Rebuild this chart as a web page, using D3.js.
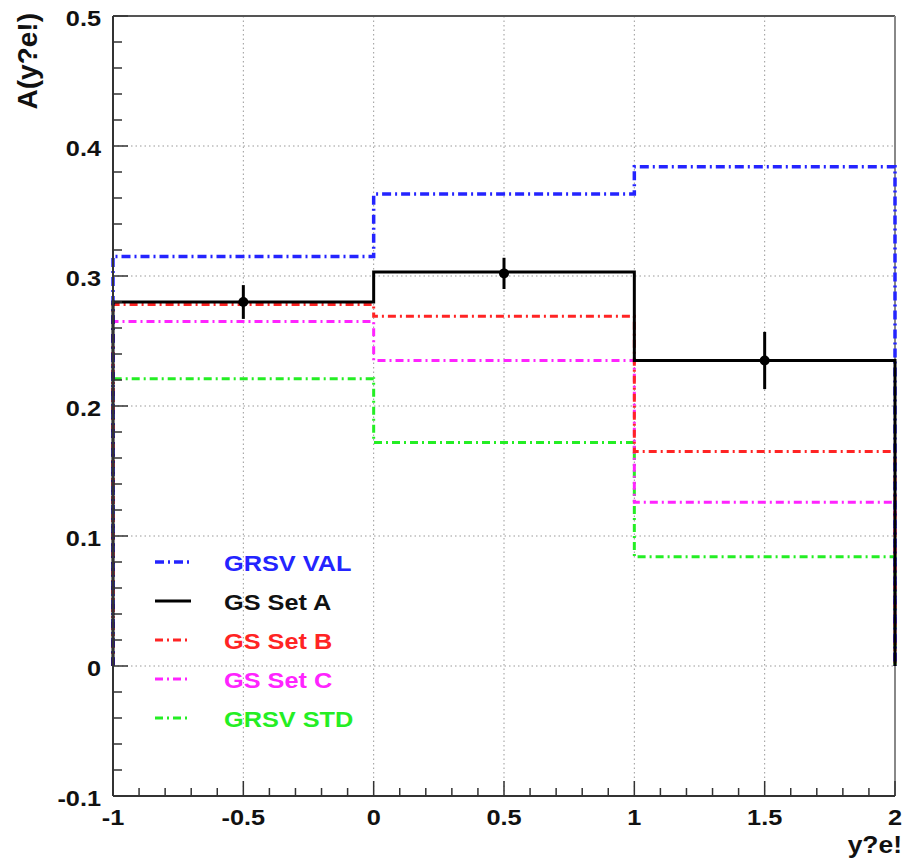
<!DOCTYPE html>
<html>
<head>
<meta charset="utf-8">
<script src="https://cdn.jsdelivr.net/npm/d3@7"></script>
<style>
  body { margin: 0; background: #fff; }
  svg { display: block; font-family: "Liberation Sans", Arial, sans-serif; }
</style>
</head>
<body>
<svg id="chart"></svg>
<script>
// Histogram bins and contents
const binEdges = [-1, 0, 1, 2];
const grsvVal = [0.315, 0.363, 0.384];
const gsSetA  = [0.280, 0.303, 0.235];
const gsSetB  = [0.278, 0.269, 0.165];
const gsSetC  = [0.265, 0.235, 0.126];
const grsvStd = [0.221, 0.172, 0.084];

// Data points with errors
const pointX   = [-0.5, 0.5, 1.5];
const pointY   = [0.280, 0.302, 0.235];
const pointErr = [0.013, 0.012, 0.022];

const xTicks = [-1, -0.5, 0, 0.5, 1, 1.5, 2];
const yTicks = [-0.1, 0, 0.1, 0.2, 0.3, 0.4, 0.5];

const series = [
  { name: "GRSV VAL",  values: grsvVal, color: "#2424ff", dash: "9,4,2,4", width: 3.5 },
  { name: "GS Set A",  values: gsSetA,  color: "#000000", dash: null,      width: 3 },
  { name: "GS Set B",  values: gsSetB,  color: "#ff2424", dash: "8,4,2,4", width: 3 },
  { name: "GS Set C",  values: gsSetC,  color: "#ff24ff", dash: "8,4,2,4", width: 3 },
  { name: "GRSV STD",  values: grsvStd, color: "#24ee24", dash: "8,4,2,4", width: 3 }
];

const W = 907, H = 858;
const sx = 1.15; // text in the picture is stretched sideways
const svg = d3.select("#chart").attr("width", W).attr("height", H);

const x = d3.scaleLinear().domain([-1, 2]).range([113, 895]);
const y = d3.scaleLinear().domain([-0.1, 0.5]).range([796, 16]);

// Grid
const grid = svg.append("g");
grid.selectAll(".gx")
  .data(xTicks.filter(d => d > -1 && d < 2))
  .enter().append("line")
  .attr("x1", d => x(d)).attr("x2", d => x(d))
  .attr("y1", y(0.5)).attr("y2", y(-0.1))
  .attr("stroke", "#999").attr("stroke-width", 1).attr("stroke-dasharray", "1.5,3");
grid.selectAll(".gy")
  .data(yTicks.filter(d => d > -0.1 && d < 0.5))
  .enter().append("line")
  .attr("x1", x(-1)).attr("x2", x(2))
  .attr("y1", d => y(d)).attr("y2", d => y(d))
  .attr("stroke", "#999").attr("stroke-width", 1).attr("stroke-dasharray", "1.5,3");

// Frame (top & right)
svg.append("line").attr("x1", x(-1)).attr("x2", x(2)).attr("y1", y(0.5)).attr("y2", y(0.5))
  .attr("stroke", "#555").attr("stroke-width", 2);
svg.append("line").attr("x1", x(2)).attr("x2", x(2)).attr("y1", y(0.5)).attr("y2", y(-0.1))
  .attr("stroke", "#888").attr("stroke-width", 2);

// Histogram step paths
function stepPath(values) {
  const pts = [[binEdges[0], 0]];
  values.forEach((v, i) => {
    pts.push([binEdges[i], v]);
    pts.push([binEdges[i + 1], v]);
  });
  pts.push([binEdges[binEdges.length - 1], 0]);
  return d3.line().x(d => x(d[0])).y(d => y(d[1]))(pts);
}

const drawOrder = [4, 3, 2, 0, 1];
drawOrder.forEach(i => {
  const s = series[i];
  svg.append("path")
    .attr("d", stepPath(s.values))
    .attr("fill", "none")
    .attr("stroke", s.color)
    .attr("stroke-width", s.width)
    .attr("stroke-dasharray", s.dash);
});

// Data points
const pts = pointX.map((d, i) => ({ x: d, y: pointY[i], e: pointErr[i] }));
svg.selectAll(".err").data(pts).enter().append("line")
  .attr("x1", d => x(d.x)).attr("x2", d => x(d.x))
  .attr("y1", d => y(d.y - d.e)).attr("y2", d => y(d.y + d.e))
  .attr("stroke", "#000").attr("stroke-width", 3);
svg.selectAll(".pt").data(pts).enter().append("circle")
  .attr("cx", d => x(d.x)).attr("cy", d => y(d.y)).attr("r", 5).attr("fill", "#000");

// Axes lines
svg.append("line").attr("x1", x(-1)).attr("x2", x(2)).attr("y1", y(-0.1)).attr("y2", y(-0.1))
  .attr("stroke", "#333").attr("stroke-width", 2);
svg.append("line").attr("x1", x(-1)).attr("x2", x(-1)).attr("y1", y(0.5)).attr("y2", y(-0.1))
  .attr("stroke", "#333").attr("stroke-width", 2);

// X ticks
const xMinor = d3.range(-10, 21).map(d => d / 10);
svg.selectAll(".xt").data(xMinor).enter().append("line")
  .attr("x1", d => x(d)).attr("x2", d => x(d))
  .attr("y1", y(-0.1))
  .attr("y2", d => y(-0.1) - (Math.abs(d * 2 - Math.round(d * 2)) < 1e-6 ? 15 : 8))
  .attr("stroke", "#333").attr("stroke-width", 1.5);
svg.selectAll(".xl").data(xTicks).enter().append("text")
  .attr("transform", d => `translate(${x(d)},825) scale(${sx},1)`)
  .attr("text-anchor", "middle")
  .attr("font-size", 22).attr("font-weight", "bold").attr("fill", "#111")
  .text(d => String(d));

// Y ticks
const yMinor = d3.range(-5, 26).map(d => d / 50);
svg.selectAll(".yt").data(yMinor).enter().append("line")
  .attr("y1", d => y(d)).attr("y2", d => y(d))
  .attr("x1", x(-1))
  .attr("x2", d => x(-1) + (Math.abs(d * 10 - Math.round(d * 10)) < 1e-6 ? 15 : 9))
  .attr("stroke", "#333").attr("stroke-width", 1.5);
svg.selectAll(".yl").data(yTicks).enter().append("text")
  .attr("transform", d => `translate(101,${y(d) + 10}) scale(${sx},1)`)
  .attr("text-anchor", "end")
  .attr("font-size", 22).attr("font-weight", "bold").attr("fill", "#111")
  .text(d => String(Math.round(d * 10) / 10));

// Axis titles
svg.append("text")
  .attr("transform", "translate(37,13) rotate(-90)")
  .attr("text-anchor", "end")
  .attr("font-size", 28).attr("font-weight", "bold").attr("fill", "#111")
  .text("A(y?e!)");
svg.append("text")
  .attr("transform", `translate(902,853) scale(${sx},1)`)
  .attr("text-anchor", "end")
  .attr("font-size", 23).attr("font-weight", "bold").attr("fill", "#111")
  .text("y?e!");

// Legend
const legendY = [562, 601, 640, 679, 718];
const legend = svg.append("g");
series.forEach((s, i) => {
  legend.append("line")
    .attr("x1", 155).attr("x2", 191)
    .attr("y1", legendY[i]).attr("y2", legendY[i])
    .attr("stroke", s.color).attr("stroke-width", s.width)
    .attr("stroke-dasharray", s.dash);
  legend.append("text")
    .attr("transform", `translate(224,${legendY[i] + 9}) scale(${sx},1)`)
    .attr("font-size", 22).attr("font-weight", "bold")
    .attr("fill", s.color === "#000000" ? "#111" : s.color)
    .text(s.name);
});
</script>
</body>
</html>
